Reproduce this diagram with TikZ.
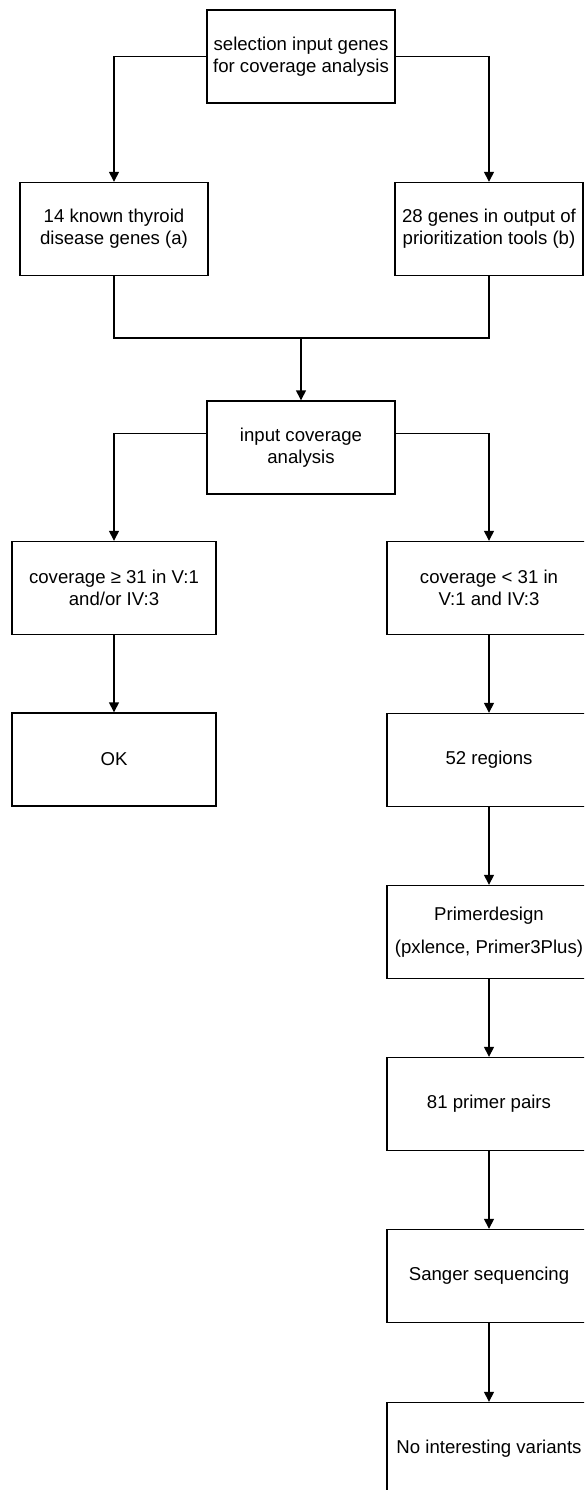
\documentclass[tikz,border=0pt]{standalone}
\usepackage{fontspec}
\setmainfont{Liberation Sans}
\usetikzlibrary{arrows.meta}

\begin{document}
\begin{tikzpicture}[
        x=1pt, y=-1pt,
        every node/.append style={font=\fontsize{18.6}{22}\selectfont}
    ]
    \tikzstyle{box}=[draw,line width=1.4pt,align=center,inner sep=0pt,minimum width=188pt,minimum height=93pt];
    \tikzstyle{wbox}=[box,minimum width=204pt];
    \tikzstyle{line}=[line width=1.4pt];
    \tikzstyle{arr}=[line,-{Triangle[width=10pt,length=10pt]}];
    \path[use as bounding box,clip] (0,0) rectangle (584,1490);
    % top
    \node[box] (sel) at (301,56.5) {selection input genes\\for coverage analysis};
    \node[box] (known) at (114,229) {14 known thyroid\\disease genes (a)};
    \node[box] (prior) at (489,229) {28 genes in output of\\prioritization tools (b)};
    \draw[arr] (sel.west) -| (known.north);
    \draw[arr] (sel.east) -| (prior.north);
    % merge
    \coordinate (mrg) at (301,338);
    \node[box] (cov) at (301,447.5) {input coverage\\analysis};
    \draw[line] (known.south) |- (mrg) -| (prior.south);
    \draw[arr] (mrg) -- (cov.north);
    % split
    \node[wbox] (hi) at (114,588) {coverage ≥ 31 in V:1\\and/or IV:3};
    \node[wbox] (lo) at (489,588) {coverage < 31 in\\V:1 and IV:3};
    \draw[arr] ([yshift=14pt]cov.west) -| (hi.north);
    \draw[arr] ([yshift=14pt]cov.east) -| (lo.north);
    % left
    \node[wbox] (ok) at (114,759.5) {OK};
    \draw[arr] (hi) -- (ok);
    % right
    \node[wbox] (reg) at (489,760) {52 regions};
    \node[wbox] (pd) at (489,932) {Primerdesign\\[11pt](pxlence, Primer3Plus)};
    \node[wbox] (pp) at (489,1104) {81 primer pairs};
    \node[wbox] (sq) at (489,1276) {Sanger sequencing};
    \node[wbox] (nv) at (489,1449) {No interesting variants};
    \draw[arr] (lo) -- (reg);
    \draw[arr] (reg) -- (pd);
    \draw[arr] (pd) -- (pp);
    \draw[arr] (pp) -- (sq);
    \draw[arr] (sq) -- (nv);
\end{tikzpicture}
\end{document}
